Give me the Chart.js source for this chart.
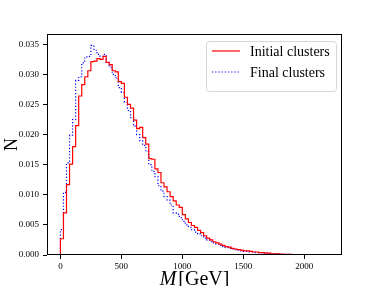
<!DOCTYPE html>
<html lang="en">
<head>
    <meta charset="UTF-8">
    <title>Cluster mass</title>
    <style>
        html, body { margin: 0; padding: 0; background: #fff; }
        #wrap { width: 381px; height: 286px; position: relative; }
    </style>
    <script src="https://cdn.jsdelivr.net/npm/chart.js@4.4.1/dist/chart.umd.min.js"></script>
</head>
<body>
    <div id="wrap"><canvas id="massChart" width="381" height="286"></canvas></div>

    <script>
        // Histogram contents, 25 GeV bins starting at 0
        const binWidth = 25;
        const initialClusters = [
            0.0027, 0.0070, 0.0117, 0.0151, 0.0180, 0.0215, 0.0264, 0.0283, 0.0296, 0.0306,
            0.0321, 0.0322, 0.0326, 0.0325, 0.0330, 0.0320, 0.0316, 0.0306, 0.0304, 0.0288,
            0.0285, 0.0262, 0.0250, 0.0244, 0.0224, 0.0210, 0.0212, 0.0195, 0.0184, 0.0160,
            0.0159, 0.0143, 0.0137, 0.0120, 0.0113, 0.0105, 0.0097, 0.0090, 0.0083, 0.0079,
            0.0067, 0.0060, 0.0054, 0.0049, 0.0046, 0.0041, 0.0037, 0.0032, 0.0028, 0.0025,
            0.0022, 0.0020, 0.0018, 0.0016, 0.0014, 0.0013, 0.0011, 0.0010, 0.0009, 0.0008,
            0.0007, 0.0007, 0.0006, 0.0005, 0.0005, 0.0004, 0.0004, 0.0003, 0.0003, 0.0002,
            0.0002, 0.0002, 0.00015, 0.00012, 0.0001, 0.0001, 0.00008, 0.00006, 0.00005, 0.00004,
            0.00004, 0.00003, 0.00002, 0.00002, 0.00002, 0.00001, 0.00001, 0.00001
        ];
        const finalClusters = [
            0.0042, 0.0104, 0.0153, 0.0199, 0.0225, 0.0290, 0.0296, 0.0319, 0.0329, 0.0330,
            0.0348, 0.0340, 0.0333, 0.0330, 0.0333, 0.0320, 0.0312, 0.0300, 0.0294, 0.0278,
            0.0270, 0.0254, 0.0240, 0.0228, 0.0214, 0.0200, 0.0190, 0.0182, 0.0172, 0.0150,
            0.0139, 0.0130, 0.0115, 0.0106, 0.0097, 0.0091, 0.0083, 0.0070, 0.0068, 0.0062,
            0.0056, 0.0050, 0.0046, 0.0042, 0.0038, 0.0035, 0.0032, 0.0028, 0.0025, 0.0022,
            0.0020, 0.0018, 0.0016, 0.0014, 0.0013, 0.0011, 0.0010, 0.0009, 0.0008, 0.0007,
            0.0006, 0.0006, 0.0005, 0.0005, 0.0004, 0.0004, 0.0003, 0.0003, 0.0002, 0.0002,
            0.0002, 0.00015, 0.00012, 0.0001, 0.0001, 0.00008, 0.00006, 0.00005, 0.00004, 0.00003,
            0.00003, 0.00002, 0.00002, 0.00002, 0.00001, 0.00001, 0.00001, 0.00001
        ];
        const seriesLabels = ['Initial clusters', 'Final clusters'];
        const xTicks = [0, 500, 1000, 1500, 2000];
        const yTicks = [0, 0.005, 0.010, 0.015, 0.020, 0.025, 0.030, 0.035];

        const serif = "'Liberation Serif', 'DejaVu Serif', serif";

        // turn bin contents into a closed step outline (like histtype='step')
        function stepPoints(values) {
            const pts = [{ x: 0, y: 0 }];
            values.forEach((v, i) => pts.push({ x: i * binWidth, y: v }));
            pts.push({ x: values.length * binWidth, y: 0 });
            return pts;
        }

        // spines, legend box and the x label with italic M
        const framePlugin = {
            id: 'frame',
            afterDraw(chart) {
                const ctx = chart.ctx;
                const a = chart.chartArea;
                ctx.save();
                ctx.strokeStyle = '#000';
                ctx.lineWidth = 1;
                ctx.strokeRect(Math.round(a.left) + 0.5, Math.round(a.top) + 0.5,
                    Math.round(a.right - a.left) - 1, Math.round(a.bottom - a.top) - 1);

                // legend
                const w = 130, h = 50;
                const lx = a.right - 6 - w, ly = a.top + 7;
                ctx.beginPath();
                ctx.roundRect(lx + 0.5, ly + 0.5, w, h, 3);
                ctx.fillStyle = 'rgba(255,255,255,0.8)';
                ctx.fill();
                ctx.strokeStyle = '#d6d6d6';
                ctx.stroke();
                chart.data.datasets.forEach((ds, i) => {
                    const y = ly + 10 + i * 21;
                    ctx.beginPath();
                    ctx.setLineDash(ds.borderDash || []);
                    ctx.strokeStyle = ds.borderColor;
                    ctx.lineWidth = ds.borderWidth;
                    ctx.moveTo(lx + 6, y);
                    ctx.lineTo(lx + 34, y);
                    ctx.stroke();
                    ctx.setLineDash([]);
                    ctx.fillStyle = '#000';
                    ctx.font = '14px ' + serif;
                    ctx.textBaseline = 'middle';
                    ctx.textAlign = 'left';
                    ctx.fillText(ds.label, lx + 44, y + 1);
                });

                // x axis title
                const cx = (a.left + a.right) / 2;
                ctx.textBaseline = 'alphabetic';
                ctx.font = 'italic 20px ' + serif;
                const mW = ctx.measureText('M').width;
                ctx.font = '20px ' + serif;
                const rest = '[GeV]';
                const rW = ctx.measureText(rest).width;
                const total = mW + 2 + rW;
                ctx.textAlign = 'left';
                ctx.font = 'italic 20px ' + serif;
                ctx.fillText('M', cx - total / 2, 285);
                ctx.font = '20px ' + serif;
                ctx.fillText(rest, cx - total / 2 + mW + 2, 285);
                ctx.restore();
            }
        };

        const ctxMass = document.getElementById('massChart').getContext('2d');
        const massChart = new Chart(ctxMass, {
            type: 'line',
            data: {
                datasets: [{
                    label: seriesLabels[0],
                    data: stepPoints(initialClusters),
                    borderColor: '#ff0000',
                    borderWidth: 1.2,
                    stepped: true,
                    pointRadius: 0,
                    fill: false
                }, {
                    label: seriesLabels[1],
                    data: stepPoints(finalClusters),
                    borderColor: '#0000ff',
                    borderWidth: 1.2,
                    borderDash: [1.2, 2],
                    stepped: true,
                    pointRadius: 0,
                    fill: false
                }]
            },
            options: {
                responsive: false,
                animation: false,
                devicePixelRatio: 1,
                layout: { padding: { top: 34, right: 39, left: 0, bottom: 0 } },
                plugins: {
                    legend: { display: false },
                    tooltip: { enabled: false }
                },
                scales: {
                    x: {
                        type: 'linear',
                        min: -110,
                        max: 2310,
                        afterBuildTicks: s => { s.ticks = xTicks.map(v => ({ value: v })); },
                        afterFit: s => { s.height = 31; },
                        grid: { drawOnChartArea: false, tickLength: 4, tickColor: '#000' },
                        border: { display: false },
                        ticks: {
                            color: '#000',
                            padding: 2,
                            maxRotation: 0,
                            font: { family: serif, size: 9 },
                            callback: v => String(v)
                        }
                    },
                    y: {
                        min: 0,
                        max: 0.0367,
                        afterBuildTicks: s => { s.ticks = yTicks.map(v => ({ value: v })); },
                        afterFit: s => { s.width = 47; },
                        grid: { drawOnChartArea: false, tickLength: 4, tickColor: '#000' },
                        border: { display: false },
                        title: {
                            display: true,
                            text: 'N',
                            color: '#000',
                            font: { family: serif, size: 18 },
                            padding: { top: 1, bottom: 0 }
                        },
                        ticks: {
                            color: '#000',
                            padding: 4,
                            font: { family: serif, size: 9 },
                            callback: v => Number(v).toFixed(3)
                        }
                    }
                }
            },
            plugins: [framePlugin]
        });
    </script>
</body>
</html>
